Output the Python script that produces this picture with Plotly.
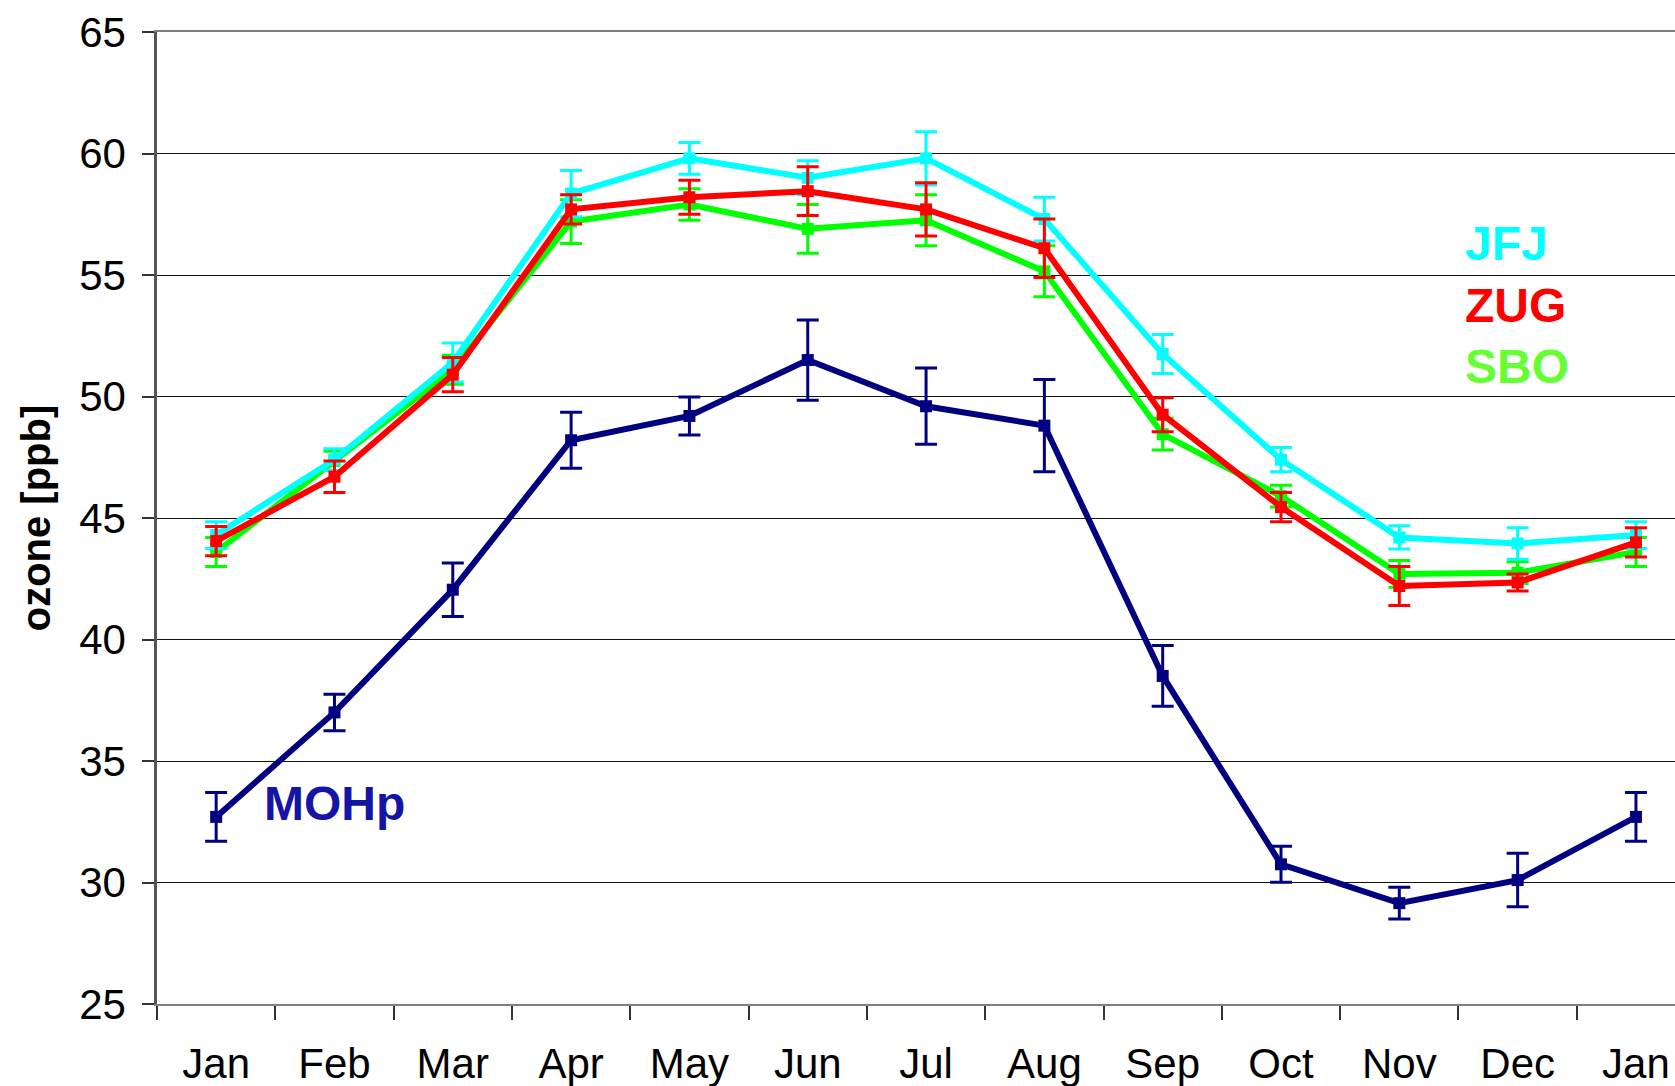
import plotly.graph_objects as go

months = ["Jan", "Feb", "Mar", "Apr", "May", "Jun", "Jul", "Aug", "Sep", "Oct", "Nov", "Dec", "Jan"]

mohp = [32.7, 37.0, 42.05, 48.2, 49.2, 51.5, 49.6, 48.8, 38.5, 30.75, 29.15, 30.1, 32.7]
mohp_err = [1.0, 0.75, 1.1, 1.15, 0.78, 1.65, 1.57, 1.9, 1.25, 0.74, 0.65, 1.1, 1.0]

jfj = [44.3, 47.4, 51.4, 58.35, 59.8, 59.0, 59.8, 57.3, 51.75, 47.4, 44.2, 43.95, 44.3]
jfj_err = [0.55, 0.45, 0.8, 0.95, 0.65, 0.7, 1.1, 0.9, 0.8, 0.5, 0.48, 0.65, 0.55]

zug = [44.05, 46.7, 50.9, 57.7, 58.2, 58.45, 57.7, 56.1, 49.25, 45.45, 42.2, 42.35, 44.0]
zug_err = [0.6, 0.65, 0.7, 0.6, 0.7, 1.0, 1.1, 1.2, 0.7, 0.6, 0.8, 0.35, 0.6]

sbo = [43.6, 47.35, 51.1, 57.2, 57.9, 56.9, 57.25, 55.15, 48.45, 45.9, 42.7, 42.75, 43.6]
sbo_err = [0.6, 0.4, 0.6, 0.9, 0.65, 1.0, 1.05, 1.05, 0.65, 0.45, 0.55, 0.45, 0.6]

y_ticks = [25, 30, 35, 40, 45, 50, 55, 60, 65]

xpos = list(range(len(months)))

fig = go.Figure()

series = [
    ("MOHp", mohp, mohp_err, "#000080"),
    ("SBO", sbo, sbo_err, "#00FF00"),
    ("JFJ", jfj, jfj_err, "#00FFFF"),
    ("ZUG", zug, zug_err, "#FF0000"),
]
for name, vals, errs, col in series:
    fig.add_trace(go.Scatter(
        x=xpos, y=vals, name=name, mode="lines+markers",
        line=dict(color=col, width=6),
        marker=dict(symbol="square", size=12, color=col),
        error_y=dict(type="data", array=errs, visible=True, color=col,
                     thickness=3, width=11),
        cliponaxis=False,
    ))

labels = [
    ("JFJ", 10.54, 56.3, "#00FFFF"),
    ("ZUG", 10.54, 53.75, "#FF0000"),
    ("SBO", 10.54, 51.25, "#66FF33"),
    ("MOHp", 0.39, 33.25, "#1414A6"),
]
for txt, x, y, col in labels:
    fig.add_annotation(x=x, y=y, text=txt, showarrow=False, xanchor="left",
                       yanchor="middle",
                       font=dict(family="Liberation Sans, Arial", size=48,
                                 color=col, weight="bold"))

fig.update_layout(
    width=1675, height=1086,
    margin=dict(l=157, r=0, t=32, b=82),
    paper_bgcolor="white", plot_bgcolor="white",
    showlegend=False,
    font=dict(family="Liberation Sans, Arial", size=42, color="black"),
)
fig.update_xaxes(
    range=[-0.5, 12.33],
    tickvals=xpos, ticktext=months, ticks="",
    tickfont=dict(size=42),
    ticklabelstandoff=22,
    showgrid=False, zeroline=False,
    showline=True, linecolor="#808080", linewidth=2, mirror=True,
    minor=dict(tickvals=[i - 0.5 for i in range(len(months))], ticks="outside",
               ticklen=14, tickwidth=1.5, tickcolor="#333333", showgrid=False),
)
fig.update_yaxes(
    range=[25, 65], tickvals=y_ticks,
    ticks="outside", ticklen=12, tickwidth=1.5, tickcolor="#333333",
    tickfont=dict(size=42),
    ticklabelstandoff=8,
    showgrid=True, gridcolor="#111111", gridwidth=1,
    zeroline=False,
    showline=True, linecolor="#555555", linewidth=2.5,
    title=dict(text="ozone [ppb]", standoff=17,
               font=dict(size=40, weight="bold")),
)

fig.write_html(
    "out.html",
    config={"displayModeBar": False},
    post_script="document.body.style.margin='0px';"
                "document.documentElement.style.overflow='hidden';"
                "document.body.style.overflow='hidden';",
)
